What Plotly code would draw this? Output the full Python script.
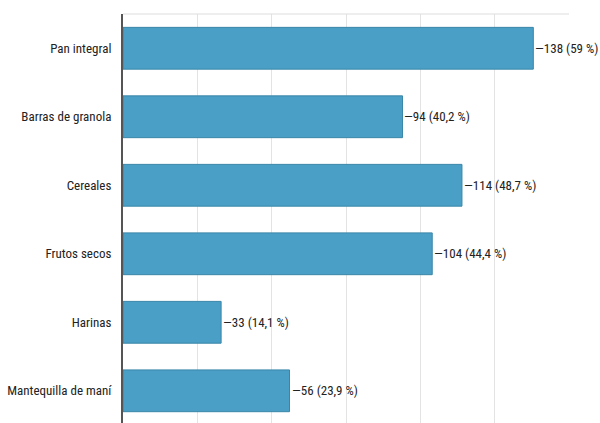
import plotly.graph_objects as go

categories = ["Pan integral", "Barras de granola", "Cereales", "Frutos secos", "Harinas", "Mantequilla de maní"]
counts = [138, 94, 114, 104, 33, 56]
percents = [59, 40.2, 48.7, 44.4, 14.1, 23.9]

def fmt_pct(p):
    return ("%g" % p).replace(".", ",")

labels = ["\u2014%d (%s %%)" % (c, fmt_pct(p)) for c, p in zip(counts, percents)]

FONT = "Roboto Condensed, Liberation Sans, sans-serif"

fig = go.Figure(go.Bar(
    y=categories, x=counts, orientation="h",
    marker=dict(color="#4a9fc7", line=dict(color="#3a86a8", width=1)),
    width=0.61,
))

for c, cat, lab in zip(counts, categories, labels):
    fig.add_annotation(x=c, y=cat, text=lab, showarrow=False, xanchor="left",
                       yanchor="middle", xshift=0,
                       font=dict(family=FONT, size=13, color="#222222"))

fig.update_layout(
    width=600, height=423,
    margin=dict(l=123, r=31, t=14, b=0),
    paper_bgcolor="white", plot_bgcolor="white",
    showlegend=False,
    font=dict(family=FONT, size=13, color="#222222"),
    xaxis=dict(range=[0, 150], dtick=25, showticklabels=False, showgrid=True,
               gridcolor="#e3e3e3", gridwidth=1, zeroline=False, fixedrange=True,
               automargin=False),
    yaxis=dict(categoryorder="array", categoryarray=categories,
               range=[5.47, -0.5], showline=True, linecolor="#555555", linewidth=2,
               ticks="", ticklabelstandoff=7, showgrid=False, automargin=False,
               tickfont=dict(family=FONT, size=13, color="#222222")),
    shapes=[dict(type="line", xref="paper", yref="paper", x0=0, x1=1, y0=1, y1=1,
                 line=dict(color="#dddddd", width=1))],
)

fig.write_html("out.html")
